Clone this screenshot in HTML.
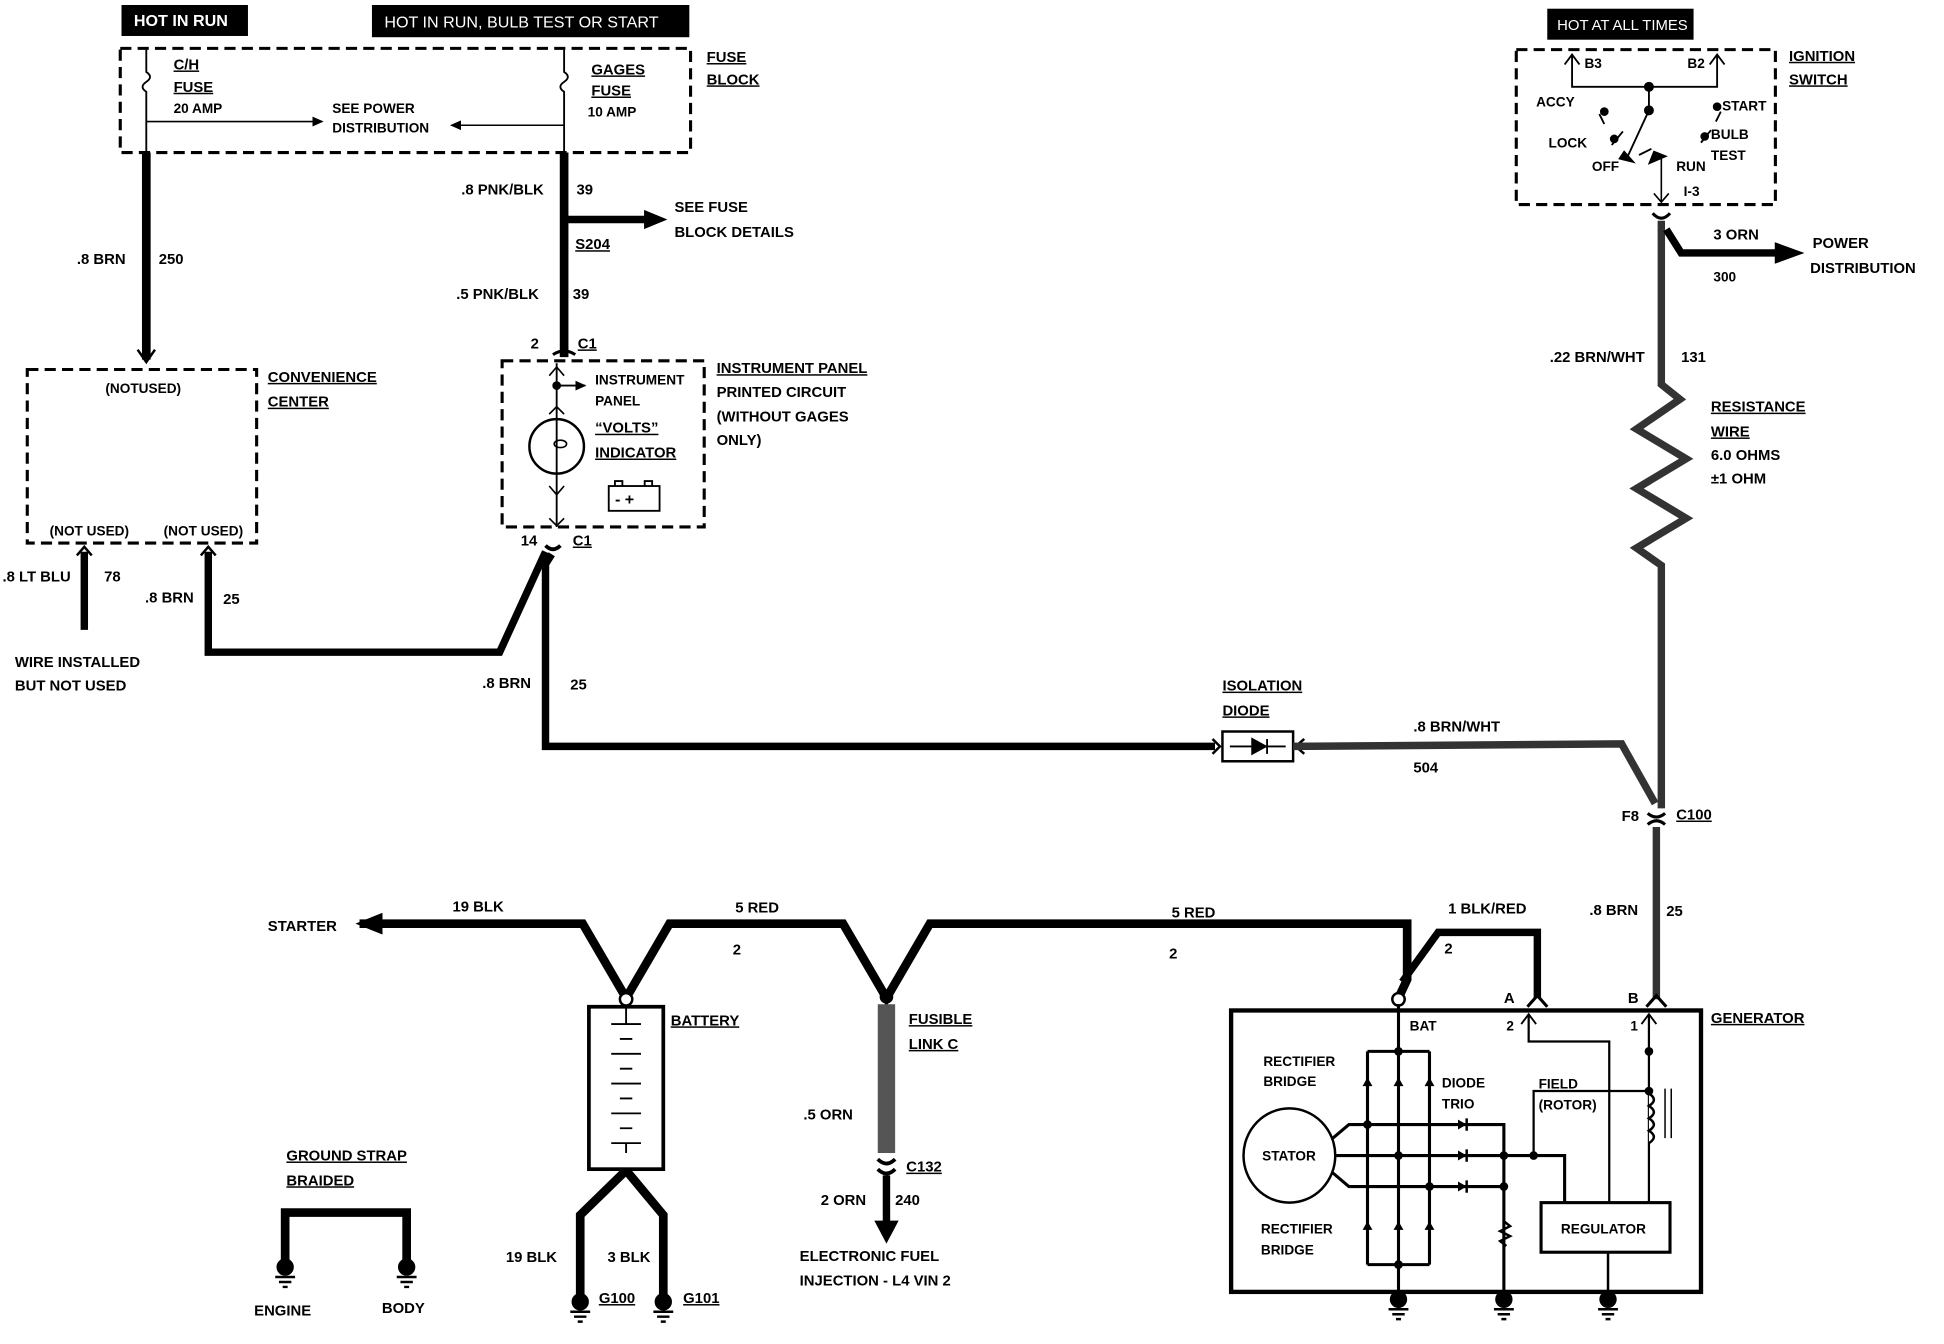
<!DOCTYPE html>
<html><head><meta charset="utf-8"><style>
html,body{margin:0;padding:0;background:#fff}
svg{display:block}
text{font-family:"Liberation Sans",sans-serif;font-weight:bold;font-size:12px;fill:#000}
.s{font-size:11px}
.w{fill:#fff}
</style></head><body>
<svg width="1944" height="1344" viewBox="0 0 1568 1084" xmlns="http://www.w3.org/2000/svg">
<defs>
<marker id="ah" markerWidth="10" markerHeight="10" refX="8" refY="5" orient="auto" markerUnits="userSpaceOnUse"><path d="M0,1 L9,5 L0,9 z" fill="#000"/></marker>
</defs>
<g fill="none" stroke="#000">
<!-- fuse block -->
<rect x="97" y="39" width="460" height="84" stroke-width="2.5" stroke-dasharray="9,5"/>
<path d="M118,40 V58 q6,4 0,8 q-6,4 0,8 V123" stroke-width="1.5"/>
<path d="M455,40 V58 q6,4 0,8 q-6,4 0,8 V123" stroke-width="1.5"/>
<path d="M118,98 H260" stroke-width="1.3" marker-end="url(#ah)"/>
<path d="M455,101 H364" stroke-width="1.3" marker-end="url(#ah)"/>
<!-- wires top-left -->
<path d="M118,123 V290" stroke-width="7"/>
<path d="M111,282 L118,292 L125,282" stroke-width="2"/>
<path d="M455,123 V288" stroke-width="7"/>
<path d="M455,177 H525" stroke-width="6"/>
<path d="M520,170 L537,177 L520,184z" fill="#000"/>
<path d="M446,286 Q455,280 464,286" stroke-width="2.5"/>
<!-- convenience center -->
<rect x="22" y="298" width="185" height="140" stroke-width="2.5" stroke-dasharray="9,5"/>
<path d="M62,448 L68,441 L74,448" stroke-width="2"/>
<path d="M68,445 V508" stroke-width="6"/>
<path d="M162,448 L168,441 L174,448" stroke-width="2"/>
<path d="M168,445 V526 H403 L440,445" stroke-width="6"/>
<!-- instrument panel -->
<rect x="405" y="291" width="163" height="134" stroke-width="2.5" stroke-dasharray="9,5"/>
<path d="M449,293 V425" stroke-width="1.5"/>
<path d="M443,303 L449,296 L455,303 M443,334 L449,328 L455,334 M443,392 L449,399 L455,392 M443,418 L449,424 L455,418" stroke-width="1.3"/>
<path d="M449,311 H472" stroke-width="1.5" marker-end="url(#ah)"/>
<circle cx="449" cy="311" r="3" fill="#000"/>
<circle cx="449" cy="360" r="22" stroke-width="2"/>
<ellipse cx="452" cy="358" rx="5" ry="3" stroke-width="1.3"/>
<rect x="491" y="392" width="41" height="20" stroke-width="1.5"/>
<path d="M496,392 V388 H502 V392 M520,392 V388 H526 V392" stroke-width="1.5"/>
<path d="M440,440 Q446,446 452,440" stroke-width="3"/>
<path d="M445,447 L440,455 V602 H980" stroke-width="6"/>
<!-- diode -->
<rect x="986" y="590" width="57" height="24" stroke-width="2"/>
<path d="M978,596 L984,602 L978,608 M1052,596 L1045,602 L1052,608" stroke-width="2"/>
<path d="M992,602 H1037 M1010,596 V608 L1021,602z M1022,596 V608" stroke-width="1.5" fill="#000"/>
<path d="M1043,602 L1308,600 L1335,648" stroke-width="6" stroke="#333"/>
<!-- ignition switch -->
<rect x="1223" y="40" width="209" height="125" stroke-width="2.5" stroke-dasharray="9,5"/>
<path d="M1268,44 V70 H1385 V44 M1262,52 L1268,44 L1274,52 M1379,52 L1385,44 L1391,52" stroke-width="1.5"/>
<path d="M1330,70 V89 L1312,128 M1300,117 L1309,106 M1294,100 L1290,92 M1384,98 L1388,90 M1372,115 L1380,105 M1322,125 L1332,120" stroke-width="1.5"/>
<circle cx="1330" cy="70" r="3.5" fill="#000"/><circle cx="1330" cy="89" r="3.5" fill="#000"/>
<circle cx="1302" cy="112" r="3" fill="#000"/><circle cx="1294" cy="90" r="3" fill="#000"/><circle cx="1385" cy="86" r="3" fill="#000"/><circle cx="1375" cy="110" r="3" fill="#000"/>
<path d="M1306,128 L1318,131 L1310,122z M1334,122 L1344,126 L1330,132z" fill="#000"/>
<path d="M1340,128 V163 M1334,156 L1340,163 L1346,156" stroke-width="1.3"/>
<path d="M1333,172 Q1340,180 1347,172" stroke-width="2.5"/>
<path d="M1340,178 V310 L1355,322 L1320,346 L1360,370 L1320,394 L1360,418 L1320,442 L1340,456 V652" stroke-width="6" stroke="#333"/>
<path d="M1344,185 L1356,204 H1435" stroke-width="6"/>
<path d="M1432,196 L1454,204 L1432,212z" fill="#000"/>
<path d="M1329,656 Q1336,662 1343,656 M1329,665 Q1336,659 1343,665" stroke-width="2.5"/>
<path d="M1336,667 V806" stroke-width="6" stroke="#333"/>
<path d="M1328,812 L1336,803 L1344,812" stroke-width="2.5"/>
<!-- main power wires -->
<path d="M290,745 H470 L505,805 L540,745 H680 L715,805 L750,745 H1135 V790 L1128,805" stroke-width="7"/>
<path d="M308,737 L288,745 L308,753z" fill="#000"/>
<path d="M1131,792 L1160,752 H1240 V805" stroke-width="6"/>
<path d="M1232,812 L1240,803 L1248,812" stroke-width="2.5"/>
<circle cx="505" cy="806" r="5" fill="#fff" stroke-width="2"/>
<circle cx="1128" cy="806" r="5" fill="#fff" stroke-width="2"/>
<circle cx="715" cy="804" r="5" fill="#000"/>
<!-- battery -->
<rect x="475" y="812" width="60" height="131" stroke-width="3"/>
<path d="M505,812 V826 M493,826 H517 M500,838 H510 M493,850 H517 M500,862 H510 M493,874 H517 M500,886 H510 M493,898 H517 M500,910 H510 M493,922 H517 M505,922 V930" stroke-width="1.5"/>
<path d="M505,944 L468,980 V1050 M505,944 L535,980 V1050" stroke-width="7"/>
<!-- fusible link -->
<path d="M715,810 V930" stroke-width="14" stroke="#555"/>
<path d="M708,935 Q715,942 722,935 M708,943 Q715,950 722,943" stroke-width="3"/>
<path d="M715,948 V988" stroke-width="6"/>
<path d="M706,985 L715,1002 L724,985z" fill="#000"/>
<!-- ground strap -->
<path d="M230,1022 V978 H328 V1022" stroke-width="7"/>
<!-- generator -->
<rect x="993" y="815" width="379" height="227" stroke-width="3.5"/>
<path d="M1128,810 V1050 M1103,848 H1153 M1103,848 V1020 M1153,848 V1020 M1103,1020 H1153" stroke-width="2.5"/>
<ellipse cx="1040" cy="932" rx="37" ry="38" stroke-width="2"/>
<path d="M1075,918 L1088,907 H1213 V1050 M1077,932 H1262 V970 M1075,946 L1088,957 H1213" stroke-width="2.5"/>
<path d="M1237,932 V880 H1330 M1233,818 V840 H1298 V970 M1330,818 V970" stroke-width="1.8"/>
<path d="M1227,826 L1233,818 L1239,826 M1324,826 L1330,818 L1336,826" stroke-width="1.5"/>
<path d="M1330,882 q8,5 0,10 q8,5 0,10 q8,5 0,10 q8,5 0,10" stroke-width="2" fill="#fff"/>
<path d="M1343,878 V918 M1348,878 V918" stroke-width="1.2"/>
<path d="M1213,985 l5,4 l-8,4 l8,4 l-8,4 l5,4" stroke-width="2"/>
<rect x="1243" y="970" width="104" height="40" stroke-width="2.5"/>
<path d="M1297,1010 V1050" stroke-width="2"/>
</g>
<g fill="#000">
<circle cx="1128" cy="848" r="3.5"/><circle cx="1330" cy="848" r="3.5"/><circle cx="1128" cy="1020" r="3.5"/>
<circle cx="1103" cy="907" r="3.5"/><circle cx="1128" cy="932" r="3.5"/><circle cx="1153" cy="957" r="3.5"/>
<circle cx="1213" cy="932" r="3.5"/><circle cx="1237" cy="932" r="3.5"/><circle cx="1213" cy="957" r="3.5"/><circle cx="1330" cy="880" r="3.5"/>
<path d="M1099,876 h8 l-4,-7z M1124,876 h8 l-4,-7z M1149,876 h8 l-4,-7z M1099,992 h8 l-4,-7z M1124,992 h8 l-4,-7z M1149,992 h8 l-4,-7z"/>
<path d="M1176,903 v8 l7,-4z M1176,928 v8 l7,-4z M1176,953 v8 l7,-4z"/>
<path d="M1183,902 v10 M1183,927 v10 M1183,952 v10" stroke="#000" stroke-width="2"/>
</g>
<!-- grounds -->
<g fill="#000" stroke="#000" stroke-width="2">
<g transform="translate(230,1022)"><circle r="6"/><path d="M-8,8 H8 M-5,12 H5 M-2,16 H2"/></g>
<g transform="translate(328,1022)"><circle r="6"/><path d="M-8,8 H8 M-5,12 H5 M-2,16 H2"/></g>
<g transform="translate(468,1050)"><circle r="6"/><path d="M-8,8 H8 M-5,12 H5 M-2,16 H2"/></g>
<g transform="translate(535,1050)"><circle r="6"/><path d="M-8,8 H8 M-5,12 H5 M-2,16 H2"/></g>
<g transform="translate(1128,1048)"><circle r="6"/><path d="M-8,8 H8 M-5,12 H5 M-2,16 H2"/></g>
<g transform="translate(1213,1048)"><circle r="6"/><path d="M-8,8 H8 M-5,12 H5 M-2,16 H2"/></g>
<g transform="translate(1297,1048)"><circle r="6"/><path d="M-8,8 H8 M-5,12 H5 M-2,16 H2"/></g>
</g>
<!-- black label boxes -->
<rect x="98" y="4" width="102" height="25" fill="#000"/>
<rect x="300" y="4" width="256" height="26" fill="#000"/>
<rect x="1248" y="7" width="118" height="25" fill="#000"/>
<text x="108" y="21" class="w" style="font-size:13px">HOT IN RUN</text>
<text x="310" y="22" class="w" style="font-size:13px;font-weight:normal">HOT IN RUN, BULB TEST OR START</text>
<text x="1256" y="24" class="w" style="font-size:12px;font-weight:normal">HOT AT ALL TIMES</text>
<!-- labels -->
<g text-decoration="underline">
<text x="140" y="56">C/H</text><text x="140" y="74">FUSE</text>
<text x="477" y="60">GAGES</text><text x="477" y="77">FUSE</text>
<text x="570" y="50">FUSE</text><text x="570" y="68">BLOCK</text>
<text x="464" y="201">S204</text>
<text x="466" y="281">C1</text><text x="462" y="440">C1</text>
<text x="216" y="308">CONVENIENCE</text><text x="216" y="328">CENTER</text>
<text x="578" y="301">INSTRUMENT PANEL</text>
<text x="480" y="349">“VOLTS”</text><text x="480" y="369">INDICATOR</text>
<text x="1443" y="49">IGNITION</text><text x="1443" y="68">SWITCH</text>
<text x="1380" y="332">RESISTANCE</text><text x="1380" y="352">WIRE</text>
<text x="986" y="557">ISOLATION</text><text x="986" y="577">DIODE</text>
<text x="1352" y="661">C100</text>
<text x="541" y="827">BATTERY</text>
<text x="733" y="826">FUSIBLE</text><text x="733" y="846">LINK C</text>
<text x="731" y="945">C132</text>
<text x="231" y="936">GROUND STRAP</text><text x="231" y="956">BRAIDED</text>
<text x="483" y="1051">G100</text><text x="551" y="1051">G101</text>
<text x="1380" y="825">GENERATOR</text>
</g>
<text x="140" y="91" class="s">20 AMP</text><text x="474" y="94" class="s">10 AMP</text>
<text x="268" y="91" class="s">SEE POWER</text><text x="268" y="107" class="s">DISTRIBUTION</text>
<text x="372" y="157">.8 PNK/BLK</text><text x="465" y="157">39</text>
<text x="544" y="171">SEE FUSE</text><text x="544" y="191">BLOCK DETAILS</text>
<text x="368" y="241">.5 PNK/BLK</text><text x="462" y="241">39</text>
<text x="62" y="213">.8 BRN</text><text x="128" y="213">250</text>
<text x="428" y="281">2</text><text x="420" y="440">14</text>
<text x="85" y="317" class="s">(NOTUSED)</text>
<text x="40" y="432" class="s">(NOT USED)</text><text x="132" y="432" class="s">(NOT USED)</text>
<text x="2" y="469">.8 LT BLU</text><text x="84" y="469">78</text>
<text x="12" y="538">WIRE INSTALLED</text><text x="12" y="557">BUT NOT USED</text>
<text x="117" y="486">.8 BRN</text><text x="180" y="487">25</text>
<text x="480" y="310" class="s">INSTRUMENT</text><text x="480" y="327" class="s">PANEL</text>
<text x="578" y="320">PRINTED CIRCUIT</text><text x="578" y="340">(WITHOUT GAGES</text><text x="578" y="359">ONLY)</text>
<text x="496" y="407" style="font-size:13px">-  +</text>
<text x="389" y="555">.8 BRN</text><text x="460" y="556">25</text>
<text x="1140" y="590">.8 BRN/WHT</text><text x="1140" y="623">504</text>
<text x="1278" y="55" class="s">B3</text><text x="1361" y="55" class="s">B2</text>
<text x="1239" y="86" class="s">ACCY</text><text x="1389" y="89" class="s">START</text>
<text x="1249" y="119" class="s">LOCK</text><text x="1380" y="112" class="s">BULB</text><text x="1380" y="129" class="s">TEST</text>
<text x="1284" y="138" class="s">OFF</text><text x="1352" y="138" class="s">RUN</text><text x="1358" y="158" class="s">I-3</text>
<text x="1382" y="193">3 ORN</text><text x="1382" y="227" class="s">300</text>
<text x="1462" y="200">POWER</text><text x="1460" y="220">DISTRIBUTION</text>
<text x="1250" y="292">.22 BRN/WHT</text><text x="1356" y="292">131</text>
<text x="1380" y="371">6.0 OHMS</text><text x="1380" y="390">±1 OHM</text>
<text x="1308" y="662">F8</text>
<text x="1282" y="738">.8 BRN</text><text x="1344" y="739">25</text>
<text x="216" y="751">STARTER</text>
<text x="365" y="735">19 BLK</text>
<text x="593" y="736">5 RED</text><text x="591" y="770">2</text>
<text x="945" y="740">5 RED</text><text x="943" y="773">2</text>
<text x="1168" y="737">1 BLK/RED</text><text x="1165" y="769">2</text>
<text x="1213" y="809">A</text><text x="1313" y="809">B</text>
<text x="1137" y="831" class="s">BAT</text><text x="1215" y="831" class="s">2</text><text x="1315" y="831" class="s">1</text>
<text x="1019" y="860" class="s">RECTIFIER</text><text x="1019" y="876" class="s">BRIDGE</text>
<text x="1163" y="877" class="s">DIODE</text><text x="1163" y="894" class="s">TRIO</text>
<text x="1241" y="878" class="s">FIELD</text><text x="1241" y="895" class="s">(ROTOR)</text>
<text x="1018" y="936" class="s">STATOR</text>
<text x="1017" y="995" class="s">RECTIFIER</text><text x="1017" y="1012" class="s">BRIDGE</text>
<text x="1259" y="995" class="s">REGULATOR</text>
<text x="648" y="903">.5 ORN</text>
<text x="662" y="972">2 ORN</text><text x="722" y="972">240</text>
<text x="645" y="1017">ELECTRONIC FUEL</text><text x="645" y="1037">INJECTION - L4 VIN 2</text>
<text x="408" y="1018">19 BLK</text><text x="490" y="1018">3 BLK</text>
<text x="205" y="1061">ENGINE</text><text x="308" y="1059">BODY</text>
</svg>
</body></html>
